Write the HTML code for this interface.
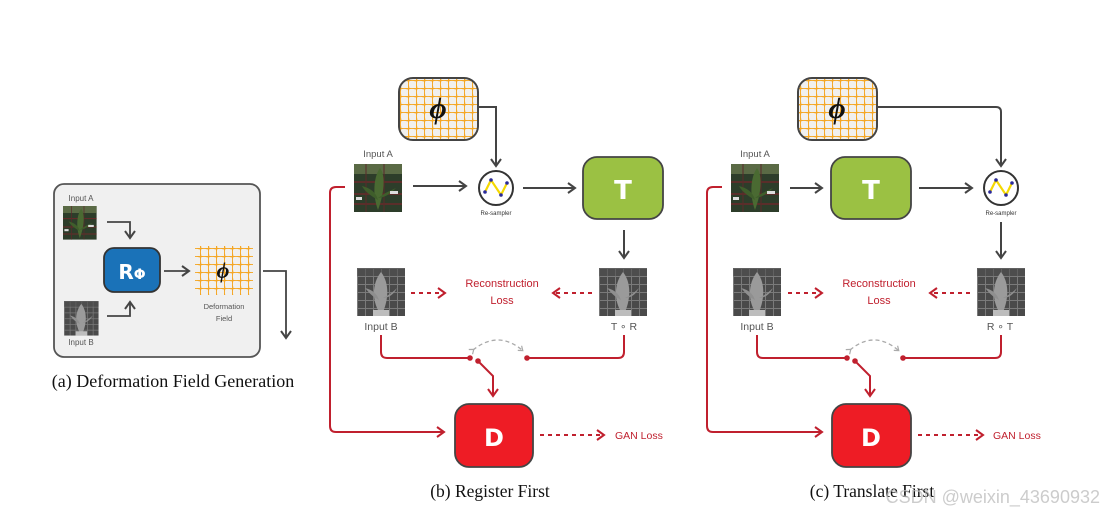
<!DOCTYPE html>
<html><head><meta charset="utf-8"><style>
html,body{margin:0;padding:0;background:#fff;}
svg{display:block;}
.s{font-family:"Liberation Sans","DejaVu Sans",sans-serif;}
.b{font-family:"DejaVu Sans","Liberation Sans",sans-serif;font-weight:bold;}
.serif{font-family:"Liberation Serif",serif;}
</style></head><body>
<svg width="1113" height="515" viewBox="0 0 1113 515" xmlns="http://www.w3.org/2000/svg">
<defs>
<marker id="ag" markerWidth="10" markerHeight="12" refX="8" refY="6" orient="auto" markerUnits="userSpaceOnUse"><path d="M1,1 L8,6 L1,11" fill="none" stroke="#444" stroke-width="2"/></marker>
<marker id="ar" markerWidth="10" markerHeight="12" refX="8" refY="6" orient="auto" markerUnits="userSpaceOnUse"><path d="M1,1 L8,6 L1,11" fill="none" stroke="#c0202e" stroke-width="2"/></marker>
<marker id="agr" markerWidth="8" markerHeight="8" refX="4" refY="4" orient="auto" markerUnits="userSpaceOnUse"><path d="M1,1 L5,4 L1,7" fill="none" stroke="#aaa" stroke-width="1.2"/></marker>
<pattern id="grid" width="8" height="8" patternUnits="userSpaceOnUse"><rect width="8" height="8" fill="#f1f0ee"/><path d="M0,0.8 Q4,-0.4 8,0.8 M0.8,0 Q-0.4,4 0.8,8" stroke="#f5a623" stroke-width="1.4" fill="none"/></pattern>
<pattern id="bgrid" width="8" height="8" patternUnits="userSpaceOnUse"><rect width="8" height="8" fill="#4a4a4a"/><path d="M0,0.5 H8 M0.5,0 V8" stroke="#7a7a7a" stroke-width="1"/></pattern>
<g id="imA">
<rect width="48" height="48" fill="#2d3d2a"/>
<rect y="0" width="48" height="10" fill="#5a6a45"/>
<path d="M0,18 H48 M0,30 H48 M0,40 H48" stroke="#6a2a2a" stroke-width="1.5"/>
<path d="M12,0 V48 M30,0 V48" stroke="#5a2a2a" stroke-width="1"/>
<path d="M24,46 C18,30 20,12 26,4 C32,12 30,30 24,46 Z" fill="#4a6a32"/>
<path d="M24,36 C14,30 10,26 8,22 C16,24 22,28 24,36 Z M24,34 C32,28 38,26 42,24 C36,30 30,34 24,34Z" fill="#3f5e2b"/>
<rect x="36" y="27" width="8" height="3" fill="#ddd"/><rect x="2" y="33" width="6" height="3" fill="#ddd"/>
</g>
<g id="imB">
<rect width="48" height="48" fill="url(#bgrid)"/>
<rect width="48" height="8" fill="#505050" opacity="0.6"/>
<path d="M22,44 C14,30 16,14 24,4 C32,14 32,30 26,44 Z" fill="#9a9a9a"/>
<path d="M22,32 C14,28 10,22 8,20 C16,22 20,26 22,32Z M26,30 C34,26 38,22 40,20 C36,28 30,30 26,30Z" fill="#8f8f8f"/>
<rect x="16" y="42" width="16" height="6" fill="#bdbdbd"/>
</g>
<g id="rs">
<circle r="17" fill="#fff" stroke="#333" stroke-width="2"/>
<path d="M-11,4 L-5,-8 L5,7 L11,-5" fill="none" stroke="#f5d800" stroke-width="2.2"/>
<circle cx="-11" cy="4" r="1.8" fill="#2a2a9a"/><circle cx="-5" cy="-8" r="1.8" fill="#2a2a9a"/><circle cx="5" cy="7" r="1.8" fill="#2a2a9a"/><circle cx="11" cy="-5" r="1.8" fill="#2a2a9a"/>
</g>
</defs>

<!-- (a) -->
<rect x="54" y="184" width="206" height="173" rx="10" fill="#f0f0f0" stroke="#555" stroke-width="1.8"/>
<text x="81" y="201" class="s" font-size="8" fill="#555" text-anchor="middle">Input A</text>
<g transform="translate(63,206) scale(0.7)"><use href="#imA"/></g>
<path d="M107,222 H130 V238" fill="none" stroke="#444" stroke-width="1.8" marker-end="url(#ag)"/>
<rect x="104" y="248" width="56" height="44" rx="10" fill="#1a72b8" stroke="#333" stroke-width="1.8"/>
<text x="132" y="279" class="b" font-size="20" fill="#fff" text-anchor="middle">R<tspan font-size="14">Φ</tspan></text>
<g transform="translate(64,301) scale(0.72)"><use href="#imB"/></g>
<text x="81" y="345" class="s" font-size="8" fill="#555" text-anchor="middle">Input B</text>
<path d="M107,316 H130 V302" fill="none" stroke="#444" stroke-width="1.8" marker-end="url(#ag)"/>
<path d="M164,271 H189" fill="none" stroke="#444" stroke-width="1.8" marker-end="url(#ag)"/>
<rect x="195" y="246" width="58" height="49" fill="url(#grid)"/>
<text x="223" y="278" class="serif" font-size="22" font-style="italic" font-weight="bold" fill="#111" text-anchor="middle">ϕ</text>
<text x="224" y="309" class="s" font-size="7.5" fill="#555" text-anchor="middle">Deformation</text>
<text x="224" y="321" class="s" font-size="7.5" fill="#555" text-anchor="middle">Field</text>
<path d="M263,271 H286 V338" fill="none" stroke="#444" stroke-width="1.8" marker-end="url(#ag)"/>
<text x="173" y="387" class="serif" font-size="18" fill="#111" text-anchor="middle">(a) Deformation Field Generation</text>

<!-- (b) -->
<rect x="399" y="78" width="79" height="62" rx="14" fill="url(#grid)" stroke="#444" stroke-width="2"/>
<text x="438" y="118" class="serif" font-size="30" font-style="italic" font-weight="bold" fill="#111" text-anchor="middle">ϕ</text>
<path d="M478,107 H496 V166" fill="none" stroke="#444" stroke-width="2" marker-end="url(#ag)"/>
<text x="378" y="157" class="s" font-size="9.5" fill="#555" text-anchor="middle">Input A</text>
<use href="#imA" x="354" y="164"/>
<path d="M413,186 H466" fill="none" stroke="#444" stroke-width="2" marker-end="url(#ag)"/>
<use href="#rs" x="496" y="188"/>
<text x="496" y="215" class="s" font-size="6" fill="#333" text-anchor="middle">Re-sampler</text>
<path d="M523,188 H575" fill="none" stroke="#444" stroke-width="2" marker-end="url(#ag)"/>
<rect x="583" y="157" width="80" height="62" rx="14" fill="#9bc143" stroke="#444" stroke-width="1.8"/>
<text x="623" y="199" class="b" font-size="26" fill="#fff" text-anchor="middle">T</text>
<path d="M624,230 V258" fill="none" stroke="#444" stroke-width="2" marker-end="url(#ag)"/>
<use href="#imB" x="599" y="268"/>
<text x="624" y="330" class="s" font-size="10.5" fill="#555" text-anchor="middle">T ∘ R</text>
<use href="#imB" x="357" y="268"/>
<text x="381" y="330" class="s" font-size="10.5" fill="#555" text-anchor="middle">Input B</text>
<path d="M411,293 H445" fill="none" stroke="#c0202e" stroke-width="2" stroke-dasharray="4,4" marker-end="url(#ar)"/>
<path d="M592,293 H553" fill="none" stroke="#c0202e" stroke-width="2" stroke-dasharray="4,4" marker-end="url(#ar)"/>
<text x="502" y="287" class="s" font-size="11" fill="#c0202e" text-anchor="middle">Reconstruction</text>
<text x="502" y="304" class="s" font-size="11" fill="#c0202e" text-anchor="middle">Loss</text>
<path d="M381,335 V352 Q381,358 387,358 H470" fill="none" stroke="#c0202e" stroke-width="2"/>
<circle cx="470" cy="358" r="2.8" fill="#c0202e"/>
<circle cx="478" cy="361" r="2.8" fill="#c0202e"/>
<path d="M478,361 L493,376 V396" fill="none" stroke="#c0202e" stroke-width="2" marker-end="url(#ar)"/>
<path d="M624,335 V352 Q624,358 618,358 H527" fill="none" stroke="#c0202e" stroke-width="2"/>
<circle cx="527" cy="358" r="2.8" fill="#c0202e"/>
<path d="M473,350 Q498,330 522,350" fill="none" stroke="#aaa" stroke-width="1.3" stroke-dasharray="4,3" marker-end="url(#agr)" marker-start="url(#agr)"/>
<rect x="455" y="404" width="78" height="63" rx="14" fill="#ee1c25" stroke="#444" stroke-width="1.8"/>
<text x="494" y="446" class="b" font-size="24" fill="#fff" text-anchor="middle">D</text>
<path d="M345,187 H336 Q330,187 330,193 V426 Q330,432 336,432 H444" fill="none" stroke="#c0202e" stroke-width="2" marker-end="url(#ar)"/>
<path d="M540,435 H604" fill="none" stroke="#c0202e" stroke-width="2" stroke-dasharray="4,4" marker-end="url(#ar)"/>
<text x="615" y="439" class="s" font-size="10.5" fill="#c0202e">GAN Loss</text>
<text x="490" y="497" class="serif" font-size="17.5" fill="#111" text-anchor="middle">(b) Register First</text>

<!-- (c) -->
<rect x="798" y="78" width="79" height="62" rx="14" fill="url(#grid)" stroke="#444" stroke-width="2"/>
<text x="837" y="118" class="serif" font-size="30" font-style="italic" font-weight="bold" fill="#111" text-anchor="middle">ϕ</text>
<path d="M877,107 H996 Q1001,107 1001,112 V166" fill="none" stroke="#444" stroke-width="2" marker-end="url(#ag)"/>
<text x="755" y="157" class="s" font-size="9.5" fill="#555" text-anchor="middle">Input A</text>
<use href="#imA" x="731" y="164"/>
<path d="M790,188 H822" fill="none" stroke="#444" stroke-width="2" marker-end="url(#ag)"/>
<rect x="831" y="157" width="80" height="62" rx="14" fill="#9bc143" stroke="#444" stroke-width="1.8"/>
<text x="871" y="199" class="b" font-size="26" fill="#fff" text-anchor="middle">T</text>
<path d="M919,188 H972" fill="none" stroke="#444" stroke-width="2" marker-end="url(#ag)"/>
<use href="#rs" x="1001" y="188"/>
<text x="1001" y="215" class="s" font-size="6" fill="#333" text-anchor="middle">Re-sampler</text>
<path d="M1001,222 V258" fill="none" stroke="#444" stroke-width="2" marker-end="url(#ag)"/>
<use href="#imB" x="977" y="268"/>
<text x="1000" y="330" class="s" font-size="10.5" fill="#555" text-anchor="middle">R ∘ T</text>
<use href="#imB" x="733" y="268"/>
<text x="757" y="330" class="s" font-size="10.5" fill="#555" text-anchor="middle">Input B</text>
<path d="M788,293 H822" fill="none" stroke="#c0202e" stroke-width="2" stroke-dasharray="4,4" marker-end="url(#ar)"/>
<path d="M970,293 H930" fill="none" stroke="#c0202e" stroke-width="2" stroke-dasharray="4,4" marker-end="url(#ar)"/>
<text x="879" y="287" class="s" font-size="11" fill="#c0202e" text-anchor="middle">Reconstruction</text>
<text x="879" y="304" class="s" font-size="11" fill="#c0202e" text-anchor="middle">Loss</text>
<path d="M757,335 V352 Q757,358 763,358 H847" fill="none" stroke="#c0202e" stroke-width="2"/>
<circle cx="847" cy="358" r="2.8" fill="#c0202e"/>
<circle cx="855" cy="361" r="2.8" fill="#c0202e"/>
<path d="M855,361 L870,376 V396" fill="none" stroke="#c0202e" stroke-width="2" marker-end="url(#ar)"/>
<path d="M1001,335 V352 Q1001,358 995,358 H903" fill="none" stroke="#c0202e" stroke-width="2"/>
<circle cx="903" cy="358" r="2.8" fill="#c0202e"/>
<path d="M850,350 Q874,330 898,350" fill="none" stroke="#aaa" stroke-width="1.3" stroke-dasharray="4,3" marker-end="url(#agr)" marker-start="url(#agr)"/>
<rect x="832" y="404" width="79" height="63" rx="14" fill="#ee1c25" stroke="#444" stroke-width="1.8"/>
<text x="871" y="446" class="b" font-size="24" fill="#fff" text-anchor="middle">D</text>
<path d="M722,187 H713 Q707,187 707,193 V426 Q707,432 713,432 H822" fill="none" stroke="#c0202e" stroke-width="2" marker-end="url(#ar)"/>
<path d="M918,435 H983" fill="none" stroke="#c0202e" stroke-width="2" stroke-dasharray="4,4" marker-end="url(#ar)"/>
<text x="993" y="439" class="s" font-size="10.5" fill="#c0202e">GAN Loss</text>
<text x="872" y="497" class="serif" font-size="17.5" fill="#111" text-anchor="middle">(c) Translate First</text>
<text x="1100" y="503" class="s" font-size="18" fill="#bbb" fill-opacity="0.75" text-anchor="end">CSDN @weixin_43690932</text>
</svg>
</body></html>
